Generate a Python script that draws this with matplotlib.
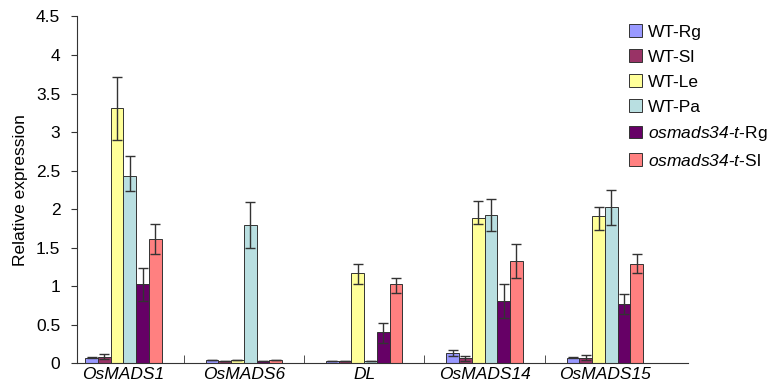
import numpy as np
import matplotlib
matplotlib.use("Agg")
import matplotlib.pyplot as plt

plt.rcParams['font.family'] = ['Liberation Sans', 'DejaVu Sans']
plt.rcParams['mathtext.fontset'] = 'custom'
plt.rcParams['mathtext.rm'] = 'Liberation Sans:italic'
plt.rcParams['mathtext.it'] = 'Liberation Sans:italic'

genes = ["OsMADS1", "OsMADS6", "DL", "OsMADS14", "OsMADS15"]
labels = ["WT-Rg", "WT-Sl", "WT-Le", "WT-Pa",
          r"$\mathrm{osmads34}$-$\mathrm{t}$-Rg", r"$\mathrm{osmads34}$-$\mathrm{t}$-Sl"]
colors = ["#9999FF", "#993366", "#FFFF99", "#B9DFE1", "#660066", "#FF8080"]

# mean expression per series (order of genes)
wt_rg = [0.07, 0.04, 0.02, 0.125, 0.07]
wt_sl = [0.08, 0.03, 0.02, 0.06, 0.07]
wt_le = [3.31, 0.04, 1.17, 1.88, 1.91]
wt_pa = [2.43, 1.79, 0.02, 1.92, 2.02]
m_rg = [1.03, 0.03, 0.40, 0.80, 0.76]
m_sl = [1.61, 0.045, 1.02, 1.32, 1.29]

# error bars (lower, upper)
wt_rg_err = [[0.01, 0.0, 0.0, 0.04, 0.01], [0.01, 0.0, 0.0, 0.04, 0.01]]
wt_sl_err = [[0.03, 0.0, 0.0, 0.03, 0.03], [0.04, 0.0, 0.0, 0.03, 0.03]]
wt_le_err = [[0.42, 0.0, 0.15, 0.08, 0.18], [0.40, 0.0, 0.12, 0.23, 0.11]]
wt_pa_err = [[0.19, 0.30, 0.0, 0.21, 0.23], [0.26, 0.30, 0.0, 0.21, 0.23]]
m_rg_err = [[0.22, 0.0, 0.14, 0.22, 0.12], [0.21, 0.0, 0.12, 0.22, 0.14]]
m_sl_err = [[0.19, 0.0, 0.11, 0.22, 0.12], [0.19, 0.0, 0.09, 0.23, 0.13]]

series = [wt_rg, wt_sl, wt_le, wt_pa, m_rg, m_sl]
errs = [wt_rg_err, wt_sl_err, wt_le_err, wt_pa_err, m_rg_err, m_sl_err]

fig = plt.figure(figsize=(7.76, 3.9), dpi=100)
ax = fig.add_axes([0.0992, 0.0692, 0.7874, 0.8885])

x = np.arange(len(genes))
w = 0.106
for i, (vals, err) in enumerate(zip(series, errs)):
    pos = x + (i - 2.5) * w
    ax.bar(pos, vals, w, color=colors[i], edgecolor="#333333", linewidth=0.7,
           label=labels[i], zorder=2)
    ax.errorbar(pos, vals, yerr=np.array(err), fmt="none", ecolor="#333333",
                elinewidth=1.0, capsize=3.8, capthick=1.0, zorder=3)

ax.set_xlim(-0.386, 4.69)
ax.set_ylim(0, 4.5)
ax.set_yticks(np.arange(0, 4.51, 0.5))
ax.set_yticklabels(["0", "0.5", "1", "1.5", "2", "2.5", "3", "3.5", "4", "4.5"])
ax.set_xticks(x)
ax.set_xticklabels(genes, fontstyle="italic", fontsize=12.5)
ax.tick_params(axis="x", length=0, pad=3)
ax.set_xticks(x[:-1] + 0.5, minor=True)
ax.tick_params(axis="x", which="minor", direction="in", length=6, color="#333333")
ax.tick_params(axis="y", labelsize=12.5, length=4, pad=8, color="#333333")
ax.set_ylabel("Relative expression", fontsize=12.5, labelpad=6)

for s in ["top", "right"]:
    ax.spines[s].set_visible(False)
for s in ["left", "bottom"]:
    ax.spines[s].set_color("#333333")

ax.legend(loc="upper left", bbox_to_anchor=(0.799, 0.96), bbox_transform=fig.transFigure,
          frameon=False, fontsize=12.5, handlelength=0.75, handleheight=0.75,
          handletextpad=0.35, labelspacing=0.55, borderpad=0)

fig.savefig("out.png", dpi=100)
